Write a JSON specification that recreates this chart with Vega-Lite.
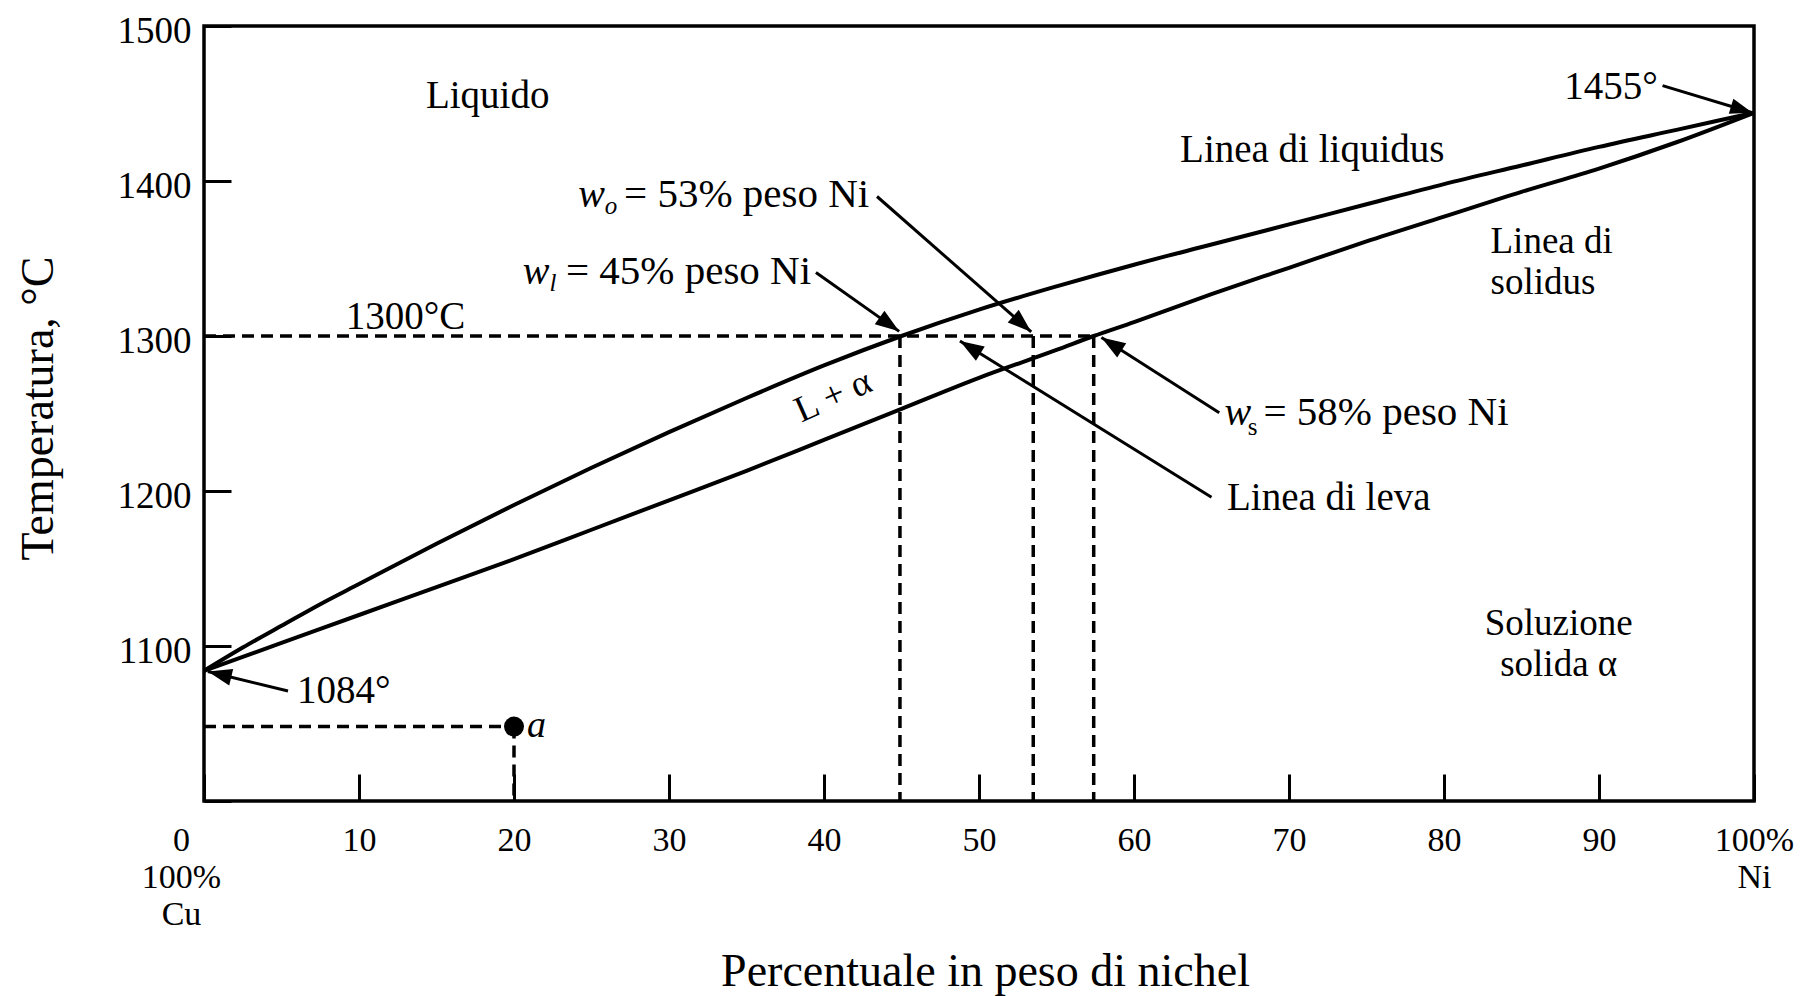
{
  "$schema": "https://vega.github.io/schema/vega-lite/v6.json",
  "width": 1550,
  "height": 775,
  "autosize": "none",
  "padding": {"left": 204, "top": 26, "right": 47, "bottom": 195},
  "background": "white",
  "config": {
    "view": {"stroke": "black", "strokeWidth": 3.5},
    "font": "Liberation Serif",
    "text": {"font": "Liberation Serif", "color": "black"}
  },
  "datasets": {
    "curves": [
      {"curve": "liquidus", "x": 0, "t": 1084}, {"curve": "liquidus", "x": 2.5, "t": 1099}, {"curve": "liquidus", "x": 5, "t": 1113}, {"curve": "liquidus", "x": 7.5, "t": 1127}, {"curve": "liquidus", "x": 10, "t": 1140}, {"curve": "liquidus", "x": 15, "t": 1166}, {"curve": "liquidus", "x": 20, "t": 1191}, {"curve": "liquidus", "x": 25, "t": 1215}, {"curve": "liquidus", "x": 30, "t": 1238}, {"curve": "liquidus", "x": 35, "t": 1260}, {"curve": "liquidus", "x": 40, "t": 1281}, {"curve": "liquidus", "x": 45, "t": 1300}, {"curve": "liquidus", "x": 50, "t": 1317}, {"curve": "liquidus", "x": 55, "t": 1332}, {"curve": "liquidus", "x": 60, "t": 1346}, {"curve": "liquidus", "x": 65, "t": 1359}, {"curve": "liquidus", "x": 70, "t": 1372}, {"curve": "liquidus", "x": 75, "t": 1385}, {"curve": "liquidus", "x": 80, "t": 1398}, {"curve": "liquidus", "x": 85, "t": 1410}, {"curve": "liquidus", "x": 90, "t": 1422}, {"curve": "liquidus", "x": 95, "t": 1433}, {"curve": "liquidus", "x": 100, "t": 1444},
      {"curve": "solidus", "x": 0, "t": 1084}, {"curve": "solidus", "x": 5, "t": 1102}, {"curve": "solidus", "x": 10, "t": 1120}, {"curve": "solidus", "x": 15, "t": 1138}, {"curve": "solidus", "x": 20, "t": 1156}, {"curve": "solidus", "x": 25, "t": 1175}, {"curve": "solidus", "x": 30, "t": 1194}, {"curve": "solidus", "x": 35, "t": 1213}, {"curve": "solidus", "x": 40, "t": 1233}, {"curve": "solidus", "x": 45, "t": 1253}, {"curve": "solidus", "x": 50, "t": 1273}, {"curve": "solidus", "x": 55, "t": 1291}, {"curve": "solidus", "x": 57.4, "t": 1300}, {"curve": "solidus", "x": 60, "t": 1309}, {"curve": "solidus", "x": 65, "t": 1327}, {"curve": "solidus", "x": 70, "t": 1344}, {"curve": "solidus", "x": 75, "t": 1361}, {"curve": "solidus", "x": 80, "t": 1377}, {"curve": "solidus", "x": 85, "t": 1393}, {"curve": "solidus", "x": 90, "t": 1408}, {"curve": "solidus", "x": 95, "t": 1425}, {"curve": "solidus", "x": 100, "t": 1444}
    ],
    "dashed": [
      {"x": 0, "t": 1300, "x2": 57.4, "t2": 1300},
      {"x": 44.9, "t": 1300, "x2": 44.9, "t2": 1000},
      {"x": 53.5, "t": 1300, "x2": 53.5, "t2": 1000},
      {"x": 57.4, "t": 1300, "x2": 57.4, "t2": 1000},
      {"x": 0, "t": 1048, "x2": 20, "t2": 1048},
      {"x": 20, "t": 1048, "x2": 20, "t2": 1000}
    ],
    "arrows": [
      {"id": "a1455", "x": 99.9, "t": 1444, "x2": 94.1, "t2": 1461.5},
      {"id": "a1084", "x": 0.25, "t": 1083.5, "x2": 5.42, "t2": 1071},
      {"id": "awo", "x": 53.37, "t": 1302.6, "x2": 43.42, "t2": 1390},
      {"id": "awl", "x": 44.85, "t": 1303, "x2": 39.48, "t2": 1341},
      {"id": "aws", "x": 57.9, "t": 1299, "x2": 65.5, "t2": 1250.5},
      {"id": "aleva", "x": 48.77, "t": 1296.8, "x2": 65.0, "t2": 1196}
    ],
    "text_center": [
      {"x": 18.3, "t": 1455, "label": "Liquido"},
      {"x": 71.5, "t": 1420, "label": "Linea di liquidus"},
      {"x": 13.0, "t": 1312, "label": "1300°C"}
    ],
    "text_center_pair": [
      {"x": 87.4, "t": 1114, "label": "Soluzione"},
      {"x": 87.4, "t": 1087.5, "label": "solida α"}
    ],
    "text_left_pair": [
      {"x": 83.0, "t": 1360.5, "label": "Linea di"},
      {"x": 83.0, "t": 1334.5, "label": "solidus"}
    ],
    "text_left": [
      {"x": 66.0, "t": 1195.5, "label": "Linea di leva"},
      {"x": 6.0, "t": 1071, "label": "1084°"}
    ],
    "text_eq": [
      {"x": 27.1, "t": 1391, "label": "= 53% peso Ni"},
      {"x": 23.35, "t": 1341, "label": "= 45% peso Ni"},
      {"x": 68.35, "t": 1250.5, "label": "= 58% peso Ni"}
    ],
    "text_right": [
      {"x": 93.8, "t": 1460.6, "label": "1455°"}
    ],
    "w_main": [
      {"x": 25.0, "t": 1391, "label": "w"},
      {"x": 21.42, "t": 1341, "label": "w"},
      {"x": 66.7, "t": 1250.5, "label": "w"}
    ],
    "w_sub_italic": [
      {"x": 26.26, "t": 1384, "label": "o"},
      {"x": 22.52, "t": 1334, "label": "l"}
    ],
    "w_sub_roman": [
      {"x": 67.65, "t": 1241, "label": "s"}
    ],
    "point_a": [{"x": 20, "t": 1048}],
    "label_a": [{"x": 20.84, "t": 1041, "label": "a"}],
    "label_la": [{"x": 40.6, "t": 1261, "label": "L + α"}]
  },
  "encoding": {
    "x": {
      "field": "x", "type": "quantitative",
      "scale": {"domain": [0, 100], "nice": false, "zero": false},
      "axis": {
        "values": [0, 10, 20, 30, 40, 50, 60, 70, 80, 90, 100],
        "domain": false, "grid": false,
        "ticks": true, "tickSize": -27, "tickWidth": 3, "tickColor": "black",
        "labelFont": "Liberation Serif", "labelFontSize": 34, "labelColor": "black",
        "labelPadding": 49, "labelFlush": false, "labelOverlap": false, "labelBound": false,
        "labelLineHeight": 37,
        "labelExpr": "datum.value == 0 ? ['0', '100%', 'Cu'] : (datum.value == 100 ? ['100%', 'Ni'] : '' + datum.value)",
        "labelOffset": {"condition": {"test": "datum.value == 0", "value": -23}, "value": 0},
        "title": "Percentuale in peso di nichel",
        "titleFont": "Liberation Serif", "titleFontSize": 46, "titleFontWeight": "normal", "titleColor": "black",
        "titleX": 781, "titleY": 184, "titleBaseline": "alphabetic", "titleAlign": "center"
      }
    },
    "y": {
      "field": "t", "type": "quantitative",
      "scale": {"domain": [1000, 1500], "nice": false, "zero": false},
      "axis": {
        "values": [1000, 1100, 1200, 1300, 1400, 1500],
        "domain": false, "grid": false,
        "ticks": true, "tickSize": -27, "tickWidth": 3, "tickColor": "black",
        "labelFont": "Liberation Serif", "labelFontSize": 37, "labelColor": "black",
        "labelPadding": 40, "labelOffset": 5, "labelFlush": false, "labelOverlap": false, "labelBound": false,
        "labelExpr": "datum.value == 1000 ? '' : '' + datum.value",
        "title": "Temperatura, °C",
        "titleFont": "Liberation Serif", "titleFontSize": 46, "titleFontWeight": "normal", "titleColor": "black",
        "titleX": -166, "titleY": 382, "titleBaseline": "middle", "titleAlign": "center"
      }
    }
  },
  "layer": [
    {"data": {"name": "curves"}, "mark": {"type": "line", "color": "black", "strokeWidth": 4, "interpolate": "monotone"}, "encoding": {"detail": {"field": "curve"}}},
    {"data": {"name": "dashed"}, "mark": {"type": "rule", "color": "black", "strokeWidth": 3.5, "strokeDash": [12, 7]}, "encoding": {"x2": {"field": "x2"}, "y2": {"field": "t2"}}},
    {"data": {"name": "arrows"}, "mark": {"type": "rule", "color": "black", "strokeWidth": 3}, "encoding": {"x2": {"field": "x2"}, "y2": {"field": "t2"}}},
    {"data": {"name": "arrows"}, "transform": [{"filter": "datum.id == 'a1455'"}], "mark": {"type": "point", "shape": "M0,0L0.35,1L-0.35,1Z", "filled": true, "color": "black", "opacity": 1, "size": 2000, "angle": 107}},
    {"data": {"name": "arrows"}, "transform": [{"filter": "datum.id == 'a1084'"}], "mark": {"type": "point", "shape": "M0,0L0.35,1L-0.35,1Z", "filled": true, "color": "black", "opacity": 1, "size": 2304, "angle": 283.6}},
    {"data": {"name": "arrows"}, "transform": [{"filter": "datum.id == 'awo'"}], "mark": {"type": "point", "shape": "M0,0L0.35,1L-0.35,1Z", "filled": true, "color": "black", "opacity": 1, "size": 2304, "angle": 131.3}},
    {"data": {"name": "arrows"}, "transform": [{"filter": "datum.id == 'awl'"}], "mark": {"type": "point", "shape": "M0,0L0.35,1L-0.35,1Z", "filled": true, "color": "black", "opacity": 1, "size": 2304, "angle": 125.3}},
    {"data": {"name": "arrows"}, "transform": [{"filter": "datum.id == 'aws'"}], "mark": {"type": "point", "shape": "M0,0L0.35,1L-0.35,1Z", "filled": true, "color": "black", "opacity": 1, "size": 2304, "angle": 302.5}},
    {"data": {"name": "arrows"}, "transform": [{"filter": "datum.id == 'aleva'"}], "mark": {"type": "point", "shape": "M0,0L0.35,1L-0.35,1Z", "filled": true, "color": "black", "opacity": 1, "size": 2304, "angle": 301.8}},
    {"data": {"name": "point_a"}, "mark": {"type": "point", "shape": "circle", "filled": true, "color": "black", "opacity": 1, "size": 400}},
    {"data": {"name": "text_center"}, "mark": {"type": "text", "font": "Liberation Serif", "fontSize": 39, "align": "center", "baseline": "middle", "color": "black"}, "encoding": {"text": {"field": "label"}}},
    {"data": {"name": "text_center_pair"}, "mark": {"type": "text", "font": "Liberation Serif", "fontSize": 37, "align": "center", "baseline": "middle", "color": "black"}, "encoding": {"text": {"field": "label"}}},
    {"data": {"name": "text_left_pair"}, "mark": {"type": "text", "font": "Liberation Serif", "fontSize": 37, "align": "left", "baseline": "middle", "color": "black"}, "encoding": {"text": {"field": "label"}}},
    {"data": {"name": "text_left"}, "mark": {"type": "text", "font": "Liberation Serif", "fontSize": 39, "align": "left", "baseline": "middle", "color": "black"}, "encoding": {"text": {"field": "label"}}},
    {"data": {"name": "text_eq"}, "mark": {"type": "text", "font": "Liberation Serif", "fontSize": 41, "align": "left", "baseline": "middle", "color": "black"}, "encoding": {"text": {"field": "label"}}},
    {"data": {"name": "text_right"}, "mark": {"type": "text", "font": "Liberation Serif", "fontSize": 39, "align": "right", "baseline": "middle", "color": "black"}, "encoding": {"text": {"field": "label"}}},
    {"data": {"name": "w_main"}, "mark": {"type": "text", "font": "Liberation Serif", "fontSize": 40, "fontStyle": "italic", "align": "center", "baseline": "middle", "color": "black"}, "encoding": {"text": {"field": "label"}}},
    {"data": {"name": "w_sub_italic"}, "mark": {"type": "text", "font": "Liberation Serif", "fontSize": 25, "fontStyle": "italic", "align": "center", "baseline": "middle", "color": "black"}, "encoding": {"text": {"field": "label"}}},
    {"data": {"name": "w_sub_roman"}, "mark": {"type": "text", "font": "Liberation Serif", "fontSize": 25, "align": "center", "baseline": "middle", "color": "black"}, "encoding": {"text": {"field": "label"}}},
    {"data": {"name": "label_a"}, "mark": {"type": "text", "font": "Liberation Serif", "fontSize": 38, "fontStyle": "italic", "align": "left", "baseline": "alphabetic", "color": "black"}, "encoding": {"text": {"field": "label"}}},
    {"data": {"name": "label_la"}, "mark": {"type": "text", "font": "Liberation Serif", "fontSize": 37, "align": "center", "baseline": "middle", "angle": 336, "color": "black"}, "encoding": {"text": {"field": "label"}}}
  ]
}
